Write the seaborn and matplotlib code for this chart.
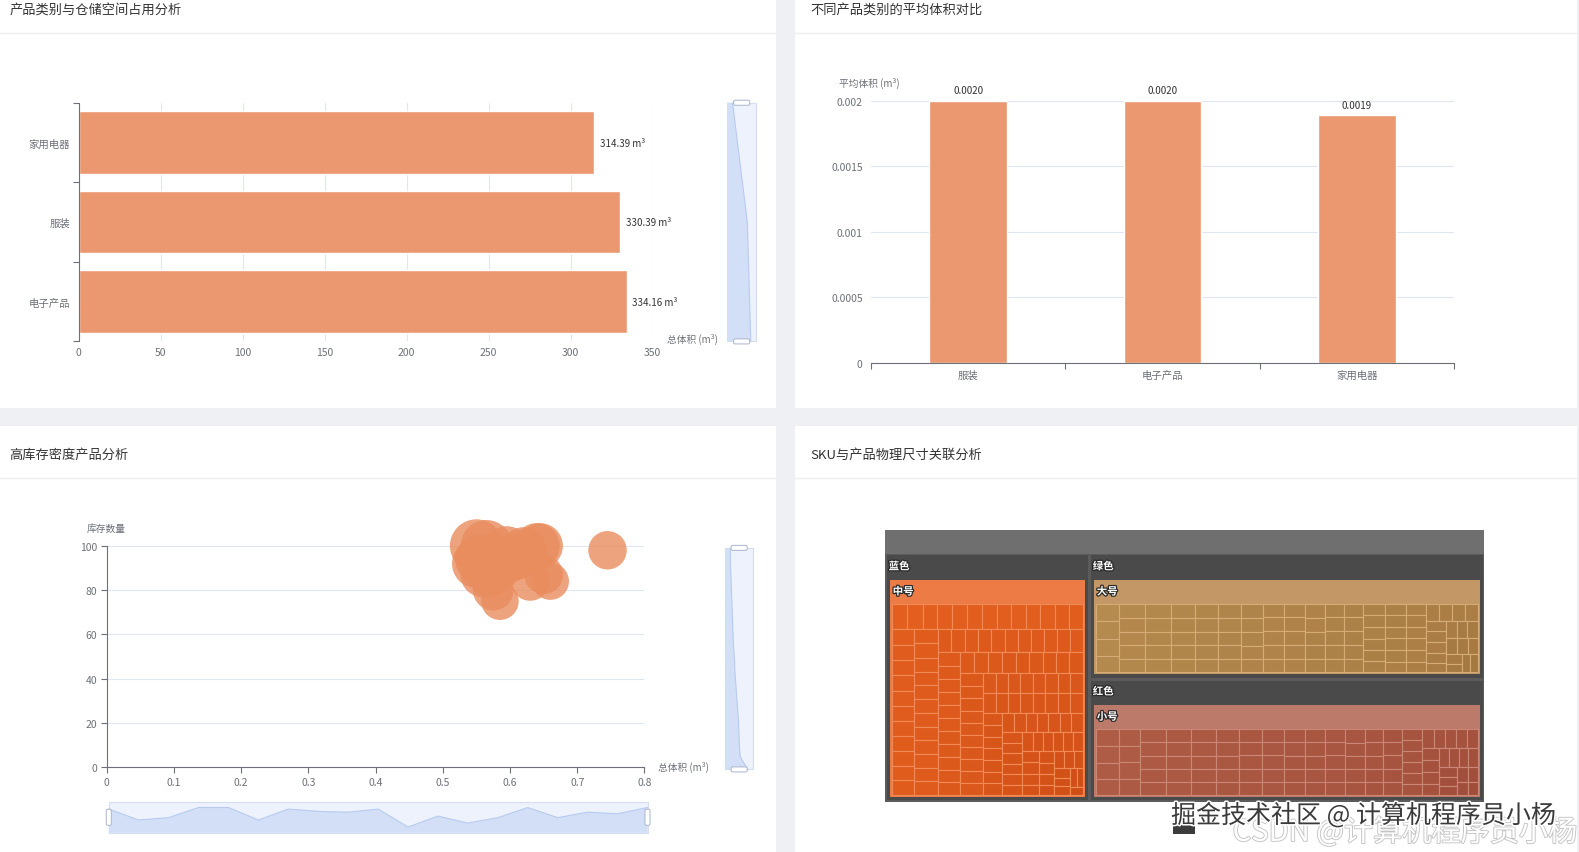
import numpy as np
import pandas as pd
import matplotlib
matplotlib.use('Agg')
import matplotlib.pyplot as plt
import matplotlib.patheffects as pe
from matplotlib.colors import to_rgb
from matplotlib.patches import Rectangle, FancyBboxPatch, Polygon
import seaborn as sns

# ---------------- data ----------------
# panel 1: total storage volume per category (m3)
space_cats = ['电子产品', '服装', '家用电器']
space_total = [334.16, 330.39, 314.39]

# panel 2: average volume per item (m3)
avg_cats = ['服装', '电子产品', '家用电器']
avg_volume = [0.00200, 0.00200, 0.00189]

# panel 3: high density products (sorted by total volume)
bubble_volume = [0.745, 0.66, 0.65, 0.645, 0.64, 0.63, 0.62, 0.61, 0.60, 0.595,
                 0.585, 0.58, 0.575, 0.57, 0.565, 0.56, 0.555, 0.55, 0.55]
bubble_stock = [98, 84, 87, 100, 100, 84, 98, 95, 94, 98,
                75, 89, 80, 87, 100, 87, 94, 92, 100]

# panel 4: SKU treemap, colour -> size -> sku values
color_names = ['蓝色', '绿色', '红色']
size_names = ['中号', '大号', '小号']
sku_medium = [23.5, 23.5, 22.8, 22.8, 22.8, 22.8, 22.1, 22.1, 22.1, 22.1, 22.1, 21.4, 21.4, 21.4,
              20.7, 20.7, 20.7, 20.7, 20.7, 20.7, 20.0, 20.0, 20.0, 20.0, 20.0, 20.0, 20.0,
              19.3, 19.3, 19.3, 19.3, 19.3, 19.3, 19.3, 19.3, 19.3, 18.6, 18.6, 18.6, 18.6, 18.6, 18.6, 18.6,
              17.9, 17.9, 17.9, 17.9, 17.9, 17.9, 17.9, 17.9, 17.9, 17.9, 17.3, 17.3, 17.3, 17.3, 17.3, 17.3, 17.3, 17.3,
              16.6, 16.6, 16.6, 16.6, 16.6, 16.6, 16.6, 16.6, 16.6, 15.9, 15.9, 15.9, 15.9, 15.9, 15.9, 15.9, 15.9,
              15.2, 15.2, 15.2, 15.2, 15.2, 15.2, 15.2, 15.2, 14.5, 14.5, 14.5, 14.5, 14.5, 14.5, 14.5, 14.5,
              13.8, 13.8, 13.8, 13.8, 13.8, 13.8, 13.8, 13.1, 13.1, 13.1, 13.1, 13.1, 13.1, 13.1,
              12.4, 12.4, 12.4, 12.4, 12.4, 12.4, 11.7, 11.7, 11.7, 11.7, 11.7, 11.0, 11.0, 11.0,
              10.4, 10.4, 10.4, 10.4, 9.7, 9.7, 9.7, 9.0, 9.0, 8.3, 8.3, 7.6, 6.9, 6.2]
sku_large = [33, 32, 32, 31, 31, 30, 30, 30, 29, 29, 29, 28, 28, 28, 28, 27, 27, 27, 27, 27,
             26, 26, 26, 26, 26, 26, 25, 25, 25, 25, 25, 25, 24, 24, 24, 24, 24, 24, 24, 23,
             23, 23, 23, 23, 23, 23, 22, 22, 22, 22, 22, 22, 22, 22, 21, 21, 21, 21, 21, 21,
             21, 21, 20, 20, 20, 20, 20, 20, 20, 20, 19, 19, 19, 19, 19, 19, 18, 18, 18, 18,
             18, 17, 17, 17, 16, 16, 16, 15, 15, 14, 14, 13, 13, 12, 12, 11]
sku_small = [32, 32, 31, 31, 30, 30, 30, 29, 29, 29, 29, 28, 28, 28, 28, 28, 27, 27, 27, 27,
             27, 26, 26, 26, 26, 26, 26, 25, 25, 25, 25, 25, 25, 24, 24, 24, 24, 24, 24, 24,
             23, 23, 23, 23, 23, 23, 22, 22, 22, 22, 22, 22, 22, 22, 21, 21, 21, 21, 21, 21,
             21, 20, 20, 20, 20, 20, 20, 20, 19, 19, 19, 19, 19, 19, 18, 18, 18, 18, 17, 17,
             17, 16, 16, 16, 15, 15, 15, 14, 14, 13, 13, 12, 12, 11]

# ---------------- style ----------------
BAR = '#EB9870'
BUBBLE = '#E98D5E'
AXIS = '#6E7079'
GRID = '#E0E6F1'
TEXT = '#333333'
PALETTES = [
    {'node': '#EC7B45', 'light': '#E35F1F', 'dark': '#CF4E16', 'edge': '#F28A55'},
    {'node': '#C39866', 'light': '#B68B4F', 'dark': '#A47841', 'edge': '#D6AC76'},
    {'node': '#BC7B6A', 'light': '#AF5C46', 'dark': '#A04E3B', 'edge': '#CB8775'},
]

sns.set_theme(style='white')
plt.rcParams['font.family'] = ['Noto Sans CJK SC', 'DejaVu Sans']
plt.rcParams['axes.unicode_minus'] = False

W, H = 1579, 853
VW, VH = 1568, 847   # coordinates below are measured on a 1568x847 view

fig = plt.figure(figsize=(W / 100, H / 100), dpi=100)
fig.patch.set_facecolor('#EEF0F4')


def box(x0, y0, x1, y1):
    return [x0 / VW, 1 - y1 / VH, (x1 - x0) / VW, (y1 - y0) / VH]


# background layer in view pixel coords
bg = fig.add_axes([0, 0, 1, 1], zorder=0)
bg.set_xlim(0, VW)
bg.set_ylim(VH, 0)
bg.axis('off')

panels = [(0, 0, 771, 406), (789, 0, 1566, 406), (0, 424, 771, 847), (789, 424, 1566, 847)]
titles = ['产品类别与仓储空间占用分析', '不同产品类别的平均体积对比', '高库存密度产品分析', 'SKU与产品物理尺寸关联分析']
for (x0, y0, x1, y1), t in zip(panels, titles):
    bg.add_patch(Rectangle((x0, y0), x1 - x0, y1 - y0, fc='white', ec='none', zorder=1))
    bg.plot([x0, x1], [y0 + 34 if y0 == 0 else y0 + 52] * 2, color='#EFEFEF', lw=1, zorder=1)
    bg.text(x0 + 9 if x0 == 0 else x0 + 16, y0 + 10 if y0 == 0 else y0 + 28, t,
            fontsize=9.5, color=TEXT, va='center', ha='left', zorder=2)


def axis_name(x, y, s, ha='left'):
    bg.text(x, y, s, fontsize=7, color=AXIS, va='center', ha=ha, zorder=2)


def slider(x0, y0, x1, y1, values, vertical):
    bg.add_patch(Rectangle((x0, y0), x1 - x0, y1 - y0, fc='#EDF2FC', ec='#D5DDEF', lw=0.8, zorder=2))
    lo, hi = min(values), max(values)
    pad = (hi - lo) * 0.3
    frac = [(v - lo + pad) / (hi - lo + 2 * pad) for v in values]
    n = len(values)
    if vertical:
        ys = np.linspace(y1, y0, n)
        xs = [x0 + f * (x1 - x0) for f in frac]
        poly = [(x0, y1)] + list(zip(xs, ys)) + [(x0, y0)]
    else:
        xs = np.linspace(x0, x1, n)
        ys = [y1 - f * (y1 - y0) for f in frac]
        poly = [(x0, y1)] + list(zip(xs, ys)) + [(x1, y1)]
    bg.add_patch(Polygon(poly, closed=True, fc='#D2DFF7', ec='none', zorder=3))
    bg.plot(xs, ys, color='#B8CBEE', lw=0.8, zorder=4)
    if vertical:
        cx = (x0 + x1) / 2
        for yy in (y0, y1):
            bg.add_patch(FancyBboxPatch((cx - 8, yy - 2.5), 16, 5, boxstyle='round,pad=0,rounding_size=1.5',
                                        fc='white', ec='#A9B4CC', lw=0.7, zorder=5))
    else:
        cy = (y0 + y1) / 2
        for xx in (x0, x1):
            bg.add_patch(FancyBboxPatch((xx - 2.5, cy - 8), 5, 16, boxstyle='round,pad=0,rounding_size=1.5',
                                        fc='white', ec='#A9B4CC', lw=0.7, zorder=5))


# ---------------- panel 1: horizontal bars ----------------
space_df = pd.DataFrame({'category': space_cats, 'total': space_total})
ax1 = fig.add_axes(box(78, 103, 648, 340), zorder=1)
ax1.patch.set_alpha(0)
sns.barplot(data=space_df, x='total', y='category', order=space_cats[::-1], color=BAR,
            saturation=1, width=0.79, errorbar=None, ax=ax1)
ax1.set_xlim(0, 350)
ax1.set_xticks(np.arange(0, 351, 50))
ax1.grid(axis='x', color=GRID, lw=0.8)
ax1.set_axisbelow(True)
ax1.set_xlabel('')
ax1.set_ylabel('')
for s in ['top', 'right', 'bottom']:
    ax1.spines[s].set_visible(False)
ax1.spines['left'].set_color(AXIS)
ax1.spines['left'].set_linewidth(0.8)
ax1.tick_params(axis='x', length=0, labelsize=7.5, labelcolor=AXIS, pad=4)
ax1.tick_params(axis='y', which='major', length=0, labelsize=7.5, labelcolor=AXIS, pad=6)
ax1.set_yticks([-0.5, 0.5, 1.5, 2.5], minor=True)
ax1.tick_params(axis='y', which='minor', left=True, length=4, width=0.8, color=AXIS)
c = ax1.containers[0]
ax1.bar_label(c, labels=[f'{v:.2f} m³' for v in c.datavalues], padding=4, fontsize=7, color=TEXT)
axis_name(662, 337, '总体积 (m³)')
slider(722, 103, 751, 340, space_total, vertical=True)

# ---------------- panel 2: vertical bars ----------------
avg_df = pd.DataFrame({'category': avg_cats, 'avg': avg_volume})
ax2 = fig.add_axes(box(865, 101, 1444, 361), zorder=1)
ax2.patch.set_alpha(0)
sns.barplot(data=avg_df, x='category', y='avg', order=avg_cats, color=BAR,
            saturation=1, width=0.4, errorbar=None, ax=ax2)
ax2.set_ylim(0, 0.002)
yt = [0, 0.0005, 0.001, 0.0015, 0.002]
ax2.set_yticks(yt)
ax2.set_yticklabels([f'{t:g}' for t in yt])
ax2.grid(axis='y', color=GRID, lw=0.8)
ax2.set_axisbelow(True)
ax2.set_xlabel('')
ax2.set_ylabel('')
for s in ['top', 'right', 'left']:
    ax2.spines[s].set_visible(False)
ax2.spines['bottom'].set_color(AXIS)
ax2.spines['bottom'].set_linewidth(0.8)
ax2.tick_params(axis='y', length=0, labelsize=7.5, labelcolor=AXIS, pad=6)
ax2.tick_params(axis='x', which='major', length=0, labelsize=7.5, labelcolor=AXIS, pad=5)
ax2.set_xticks([-0.5, 0.5, 1.5, 2.5], minor=True)
ax2.tick_params(axis='x', which='minor', bottom=True, length=4, width=0.8, color=AXIS)
c = ax2.containers[0]
ax2.bar_label(c, labels=[f'{v:.4f}' for v in c.datavalues], padding=4, fontsize=7, color=TEXT)
axis_name(833, 83, '平均体积 (m³)')

# ---------------- panel 3: bubble scatter ----------------
dens_df = pd.DataFrame({'volume': bubble_volume, 'stock': bubble_stock})
dens_df['density'] = dens_df['stock'] / dens_df['volume']
marker_area = ((dens_df['density'] * 0.29 * W / VW) * 0.72) ** 2
ax3 = fig.add_axes(box(106, 543, 640, 763), zorder=1)
ax3.patch.set_alpha(0)
sns.scatterplot(data=dens_df, x='volume', y='stock', s=marker_area.to_numpy(), color=BUBBLE,
                alpha=0.8, edgecolor='none', linewidth=0, clip_on=False, legend=False, ax=ax3)
ax3.set_xlim(0, 0.8)
ax3.set_ylim(0, 100)
xt = np.linspace(0, 0.8, 9)
ax3.set_xticks(xt)
ax3.set_xticklabels([f'{t:g}' for t in xt])
ax3.set_yticks(np.arange(0, 101, 20))
ax3.grid(axis='y', color=GRID, lw=0.8)
ax3.set_axisbelow(True)
ax3.set_xlabel('')
ax3.set_ylabel('')
for s in ['top', 'right']:
    ax3.spines[s].set_visible(False)
for s in ['left', 'bottom']:
    ax3.spines[s].set_color(AXIS)
    ax3.spines[s].set_linewidth(0.8)
ax3.tick_params(axis='both', left=True, bottom=True, length=4, width=0.8, color=AXIS,
                labelsize=7.5, labelcolor=AXIS, pad=3)
axis_name(86, 525, '库存数量')
axis_name(653, 762, '总体积 (m³)')
slider(720, 545, 748, 765, bubble_volume, vertical=True)
slider(108, 797, 643, 828, bubble_stock, vertical=False)

# ---------------- panel 4: treemap ----------------
GOLDEN = 0.5 * (1 + 5 ** 0.5)


def worst(row, fixed):
    total = sum(row)
    f = fixed * fixed * GOLDEN
    return max(f * max(row) / total ** 2, total ** 2 / (f * min(row)))


def lay_row(row, fixed, rect, half, flush):
    x, y, w, h = rect
    along_x = fixed == w
    other = sum(row) / fixed
    span = h if along_x else w
    if flush or other > span:
        other = span
    start = x if along_x else y
    end = start + (w if along_x else h)
    pos = start
    out = []
    for k, a in enumerate(row):
        step = a / other
        remain = end - pos
        size = remain if (k == len(row) - 1 or remain < step) else step
        if along_x:
            out.append((pos + half, y + half, size - 2 * half, other - 2 * half))
        else:
            out.append((x + half, pos + half, other - 2 * half, size - 2 * half))
        pos += size
    if along_x:
        rect[:] = [x, y + other, w, h - other]
    else:
        rect[:] = [x + other, y, w - other, h]
    return out


def squarify(values, x, y, w, h, half=0.0):
    order = sorted(range(len(values)), key=lambda i: -values[i])
    total = sum(values)
    areas = [values[i] / total * w * h for i in order]
    rect = [x, y, w, h]
    fixed = min(w, h)
    row, best, out, i = [], float('inf'), [], 0
    while i < len(areas):
        row.append(areas[i])
        score = worst(row, fixed)
        if score <= best:
            best = score
            i += 1
        else:
            row.pop()
            out += lay_row(row, fixed, rect, half, False)
            fixed = min(rect[2], rect[3])
            row, best = [], float('inf')
    if row:
        out += lay_row(row, fixed, rect, half, True)
    return order, out


def mix(c1, c2, t):
    a, b = np.array(to_rgb(c1)), np.array(to_rgb(c2))
    return tuple(a + (b - a) * t)


def tm_label(x, y, s):
    bg.text(x, y, s, color='white', fontsize=7.5, fontweight='bold', va='center', ha='left', zorder=8,
            path_effects=[pe.withStroke(linewidth=1.8, foreground='#2A2A2A')])


TX, TY, TW, TH = 879, 527, 595, 270
bg.add_patch(Rectangle((TX, TY), TW, TH, fc='#5B5B5B', ec='none', zorder=3))
bg.add_patch(Rectangle((TX, TY), TW, 24, fc='#6F6F6F', ec='none', zorder=3))

leaf_sets = [sku_medium, sku_large, sku_small]
group_totals = [sum(v) for v in leaf_sets]
g_order, g_boxes = squarify(group_totals, TX, TY + 24, TW, TH - 24, half=1.5)
for gi, (gx, gy, gw, gh) in zip(g_order, g_boxes):
    pal = PALETTES[gi]
    leaves = leaf_sets[gi]
    bg.add_patch(Rectangle((gx, gy), gw, gh, fc='#4A4A4A', ec='none', zorder=4))
    tm_label(gx + 2, gy + 11, color_names[gi])
    nx, ny, nw, nh = gx + 3, gy + 24, gw - 6, gh - 27
    bg.add_patch(Rectangle((nx, ny), nw, nh, fc=pal['node'], ec='none', zorder=5))
    tm_label(nx + 3, ny + 12, size_names[gi])
    lo, hi = min(leaves), max(leaves)
    l_order, l_boxes = squarify(leaves, nx + 2, ny + 24, nw - 4, nh - 26)
    for li, (bx, by, bw, bh) in zip(l_order, l_boxes):
        t = (leaves[li] - lo) / (hi - lo)
        bg.add_patch(Rectangle((bx, by), bw, bh, fc=mix(pal['dark'], pal['light'], t),
                               ec=pal['edge'], lw=0.8, zorder=6))

# watermark
bg.text(1566, 828, 'CSDN @计算机程序员小杨', fontsize=21, color='white', ha='right', va='center', zorder=9,
        path_effects=[pe.withStroke(linewidth=1.3, foreground='#C4C4C4')])
bg.add_patch(Rectangle((1165, 816), 22, 13, fc='#3C3C3C', ec='none', zorder=10))
bg.text(1354, 811, '掘金技术社区 @ 计算机程序员小杨', fontsize=18, color='#3A3A3A', ha='center', va='center',
        zorder=11, path_effects=[pe.withStroke(linewidth=2.2, foreground='white')])

fig.savefig('out.png', dpi=100)
